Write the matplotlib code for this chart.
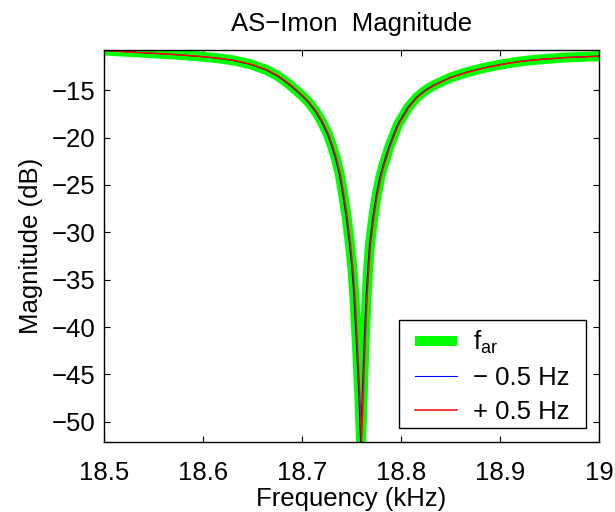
import numpy as np
import matplotlib
matplotlib.use('Agg')
import matplotlib.pyplot as plt
from matplotlib.patches import Rectangle

plt.rcParams['font.family'] = ['Liberation Sans', 'DejaVu Sans']
plt.rcParams['mathtext.default'] = 'regular'
plt.rcParams['font.size'] = 18.5

# measured notch around the anti-resonance (kHz, dB)
freq_khz = [18.500, 18.525, 18.550, 18.575, 18.597, 18.615, 18.631, 18.648,
            18.664, 18.675, 18.685, 18.693, 18.700, 18.707, 18.714, 18.720,
            18.726, 18.730, 18.734, 18.738, 18.7417, 18.745, 18.7485,
            18.7510, 18.7528, 18.7555, 18.7579, 18.7596,
            18.7613, 18.7631, 18.7653, 18.7668, 18.7686, 18.7720, 18.7754,
            18.7790, 18.7820, 18.7888, 18.7970, 18.8073, 18.8158, 18.8240,
            18.8325, 18.8500, 18.8662, 18.8830, 18.8998, 18.9170, 18.9334,
            18.9650, 19.0000]
mag_db = [-10.80, -10.95, -11.10, -11.25, -11.43, -11.62, -11.85, -12.25,
          -12.85, -13.45, -14.20, -14.90, -15.55, -16.30, -17.25, -18.30,
          -19.60, -20.76, -22.10, -23.80, -26.05, -28.30, -31.30,
          -34.00, -36.60, -41.90, -47.20, -52.10,
          -47.20, -41.90, -36.60, -34.00, -31.30, -28.40, -26.05,
          -24.20, -23.00, -20.76, -18.60, -16.80, -15.75, -15.05,
          -14.50, -13.65, -13.10, -12.65, -12.30, -12.00, -11.80,
          -11.55, -11.40]

shift_hz = 0.5  # detuning of the anti-resonance

freq = np.array(freq_khz)
mag = np.array(mag_db)

fig = plt.figure(figsize=(6.15, 5.12), dpi=100)
ax = fig.add_axes([0.1686, 0.1373, 0.8059, 0.7641])

ax.plot(freq, mag, color=(0, 1, 0), lw=7.2, solid_joinstyle='round',
        solid_capstyle='butt', label=r'f$_{ar}$')
ax.plot(freq - shift_hz / 1000, mag, color=(0, 0, 1), lw=0.8,
        label='\u2212 0.5 Hz')
ax.plot(freq + shift_hz / 1000, mag, color=(1, 0, 0), lw=1.1,
        label='+ 0.5 Hz')

ax.set_xlim(18.5, 19.0)
ax.set_ylim(-52.1, -10.8)
ax.set_xticks([18.5, 18.6, 18.7, 18.8, 18.9, 19.0])
ax.set_xticklabels(['18.5', '18.6', '18.7', '18.8', '18.9', '19'])
ax.set_yticks([-50, -45, -40, -35, -30, -25, -20, -15])
ax.tick_params(direction='in', top=True, right=True, length=4.5, width=0.8)
ax.tick_params(axis='x', pad=14)
ax.tick_params(axis='y', pad=6)
for s in ax.spines.values():
    s.set_linewidth(1.0)

ax.set_title('AS\u2212Imon  Magnitude', pad=14, fontsize=18.5)
ax.set_xlabel('Frequency (kHz)', labelpad=1.5)
ax.set_ylabel('Magnitude (dB)', labelpad=6)

# legend box drawn separately so the side margins can be wider than the top
ax.add_patch(Rectangle((0.5965, 0.035), 0.3765, 0.276, transform=ax.transAxes,
                       facecolor='white', edgecolor='black', lw=1.0,
                       zorder=4))
leg = ax.legend(loc='upper left', bbox_to_anchor=(0.628, 0.289),
                borderaxespad=0, frameon=False, handlelength=1.65,
                handletextpad=0.6, labelspacing=0.39, borderpad=0)
leg.set_zorder(5)

fig.savefig('out.png', dpi=100)
